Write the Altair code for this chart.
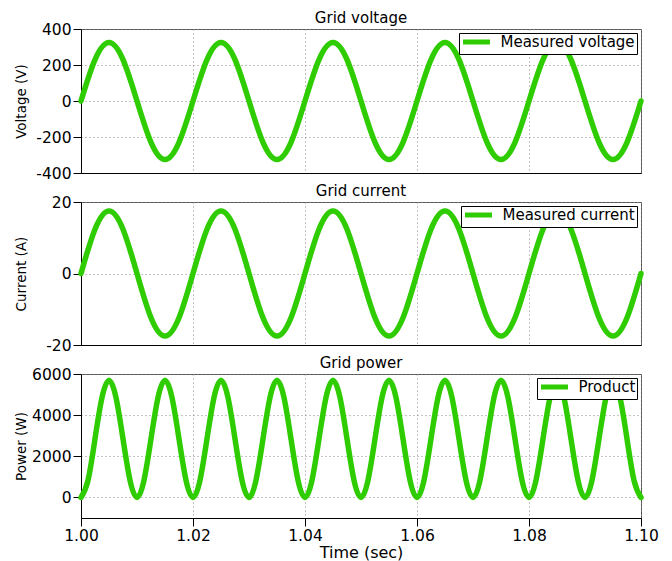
import altair as alt
import pandas as pd

GREEN = "#2ecc00"

# time base for voltage/current (2.5 ms samples)
time_vi = [
    1.0000, 1.0025, 1.0050, 1.0075, 1.0100, 1.0125, 1.0150, 1.0175,
    1.0200, 1.0225, 1.0250, 1.0275, 1.0300, 1.0325, 1.0350, 1.0375,
    1.0400, 1.0425, 1.0450, 1.0475, 1.0500, 1.0525, 1.0550, 1.0575,
    1.0600, 1.0625, 1.0650, 1.0675, 1.0700, 1.0725, 1.0750, 1.0775,
    1.0800, 1.0825, 1.0850, 1.0875, 1.0900, 1.0925, 1.0950, 1.0975,
    1.1000,
]

voltage = [
    0, 230, 325, 230, 0, -230, -325, -230,
    0, 230, 325, 230, 0, -230, -325, -230,
    0, 230, 325, 230, 0, -230, -325, -230,
    0, 230, 325, 230, 0, -230, -325, -230,
    0, 230, 325, 230, 0, -230, -325, -230,
    0,
]

current = [
    0, 12.4, 17.5, 12.4, 0, -12.4, -17.5, -12.4,
    0, 12.4, 17.5, 12.4, 0, -12.4, -17.5, -12.4,
    0, 12.4, 17.5, 12.4, 0, -12.4, -17.5, -12.4,
    0, 12.4, 17.5, 12.4, 0, -12.4, -17.5, -12.4,
    0, 12.4, 17.5, 12.4, 0, -12.4, -17.5, -12.4,
    0,
]

# time base for power (1.25 ms samples)
time_p = [
    1.00000, 1.00125, 1.00250, 1.00375, 1.00500, 1.00625, 1.00750, 1.00875,
    1.01000, 1.01125, 1.01250, 1.01375, 1.01500, 1.01625, 1.01750, 1.01875,
    1.02000, 1.02125, 1.02250, 1.02375, 1.02500, 1.02625, 1.02750, 1.02875,
    1.03000, 1.03125, 1.03250, 1.03375, 1.03500, 1.03625, 1.03750, 1.03875,
    1.04000, 1.04125, 1.04250, 1.04375, 1.04500, 1.04625, 1.04750, 1.04875,
    1.05000, 1.05125, 1.05250, 1.05375, 1.05500, 1.05625, 1.05750, 1.05875,
    1.06000, 1.06125, 1.06250, 1.06375, 1.06500, 1.06625, 1.06750, 1.06875,
    1.07000, 1.07125, 1.07250, 1.07375, 1.07500, 1.07625, 1.07750, 1.07875,
    1.08000, 1.08125, 1.08250, 1.08375, 1.08500, 1.08625, 1.08750, 1.08875,
    1.09000, 1.09125, 1.09250, 1.09375, 1.09500, 1.09625, 1.09750, 1.09875,
    1.10000,
]

power = [
    0, 833, 2845, 4857, 5690, 4857, 2845, 833,
    0, 833, 2845, 4857, 5690, 4857, 2845, 833,
    0, 833, 2845, 4857, 5690, 4857, 2845, 833,
    0, 833, 2845, 4857, 5690, 4857, 2845, 833,
    0, 833, 2845, 4857, 5690, 4857, 2845, 833,
    0, 833, 2845, 4857, 5690, 4857, 2845, 833,
    0, 833, 2845, 4857, 5690, 4857, 2845, 833,
    0, 833, 2845, 4857, 5690, 4857, 2845, 833,
    0, 833, 2845, 4857, 5690, 4857, 2845, 833,
    0, 833, 2845, 4857, 5690, 4857, 2845, 833,
    0,
]

x_ticks = [1.00, 1.02, 1.04, 1.06, 1.08, 1.10]

df_v = pd.DataFrame({"t": time_vi, "val": voltage, "series": "Measured voltage"})
df_i = pd.DataFrame({"t": time_vi, "val": current, "series": "Measured current"})
df_p = pd.DataFrame({"t": time_p, "val": power, "series": "Product"})

Y_LABEL = "datum.value < 0 ? '-' + format(-datum.value, 'd') : format(datum.value, 'd')"


def panel(df, name, title, ytitle, ydom, yticks, bottom, h):
    if bottom:
        xaxis = alt.Axis(values=x_ticks, format=".2f", title="Time (sec)",
                         tickSize=8, labelPadding=2, titlePadding=1, titleFontSize=16,
                         labelFlush=False)
    else:
        xaxis = alt.Axis(values=x_ticks, title=None, labels=False, ticks=False,
                         minExtent=0, maxExtent=0)
    return alt.Chart(df).mark_line(
        interpolate="natural", strokeWidth=5.5, strokeCap="round"
    ).encode(
        x=alt.X("t:Q", scale=alt.Scale(domain=[1.0, 1.1], nice=False, zero=False), axis=xaxis),
        y=alt.Y("val:Q", scale=alt.Scale(domain=ydom, nice=False, zero=False),
                axis=alt.Axis(values=yticks, title=ytitle, tickSize=8, labelPadding=2,
                              titlePadding=9, minExtent=44, maxExtent=44,
                              titleFontSize=13.5, labelExpr=Y_LABEL, labelFlush=False)),
        color=alt.Color("series:N", scale=alt.Scale(domain=[name], range=[GREEN]),
                        legend=alt.Legend(title=None, orient="top-right")),
    ).properties(width=560, height=h, title=title)


p1 = panel(df_v, "Measured voltage", "Grid voltage", "Voltage (V)", [-400, 400],
           [-400, -200, 0, 200, 400], False, 144)
p2 = panel(df_i, "Measured current", "Grid current", "Current (A)", [-20, 20],
           [-20, 0, 20], False, 143)
p3 = panel(df_p, "Product", "Grid power", "Power (W)", [-1000, 6000],
           [0, 2000, 4000, 6000], True, 144)

chart = alt.vconcat(p1, p2, p3, spacing=1).resolve_scale(color="independent").resolve_legend(
    color="independent"
).properties(
    padding={"left": 5, "right": 5, "top": 2, "bottom": 0}
).configure(
    font="DejaVu Sans",
).configure_view(
    stroke="#555555", strokeWidth=1,
).configure_axis(
    domainColor="black", tickColor="black", labelColor="black", titleColor="black",
    labelFontSize=15.5, titleFontWeight="normal",
    grid=True, gridColor="#888888", gridDash=[1, 3], gridWidth=1,
).configure_title(
    fontSize=15, fontWeight="normal", offset=-4, anchor="middle", color="black",
).configure_legend(
    strokeColor="black", fillColor="white", padding=1.5, cornerRadius=0,
    symbolType="M-1,0L4.4,0", symbolStrokeWidth=5, symbolSize=100, symbolStrokeColor=GREEN,
    labelFontSize=15, labelOffset=25, offset=4, labelColor="black",
)

chart.save("out.html", embed_options={"renderer": "svg", "actions": False})
